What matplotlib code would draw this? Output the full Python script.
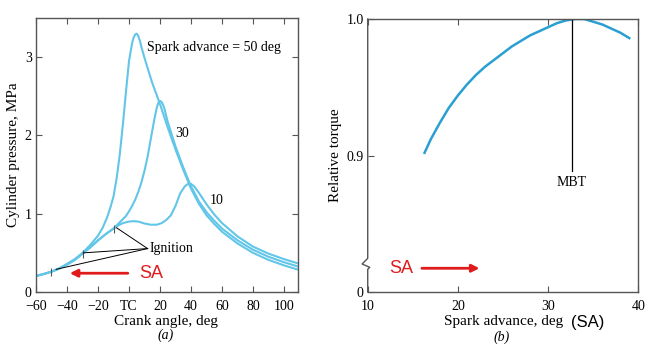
import matplotlib.pyplot as plt
import numpy as np

plt.rcParams['font.family'] = ['Liberation Serif', 'DejaVu Serif']
plt.rcParams['font.size'] = 10

# (a) cylinder pressure vs crank angle, three spark advances
ca_50 = [-60, -55, -50, -45, -40, -35, -30, -25, -20, -17, -14, -12, -10, -8, -6, -4, -2, 0, 2, 3, 4,
         5, 6, 7, 8, 10, 12, 15, 20, 25, 30, 35, 40, 45, 50, 55, 60, 70, 80, 90, 100, 110]
p_50 = [0.205, 0.23, 0.26, 0.30, 0.36, 0.42, 0.50, 0.60, 0.72, 0.82, 0.96, 1.08, 1.22, 1.45, 1.75,
        2.13, 2.55, 2.95, 3.18, 3.25, 3.29, 3.30, 3.27, 3.21, 3.13, 2.99, 2.86, 2.67, 2.40, 2.10,
        1.82, 1.56, 1.32, 1.13, 0.98, 0.87, 0.77, 0.62, 0.50, 0.41, 0.34, 0.28]

ca_30 = [-60, -55, -50, -45, -40, -35, -30, -25, -20, -15, -10, -5, -2, 0, 2, 4, 6, 8, 10, 12, 14, 16,
         17, 18, 19, 20, 21, 22, 23, 25, 30, 35, 40, 45, 50, 55, 60, 70, 80, 90, 100, 110]
p_30 = [0.205, 0.23, 0.26, 0.30, 0.35, 0.41, 0.49, 0.57, 0.66, 0.74, 0.81, 0.91, 0.97, 1.03, 1.10,
        1.18, 1.28, 1.40, 1.55, 1.73, 1.95, 2.17, 2.27, 2.36, 2.42, 2.44, 2.43, 2.39, 2.33, 2.17,
        1.86, 1.59, 1.35, 1.16, 1.02, 0.91, 0.81, 0.66, 0.54, 0.45, 0.38, 0.32]

ca_10 = [-60, -55, -50, -45, -40, -35, -30, -25, -20, -15, -10, -7, -4, 0, 3, 6, 10, 14, 18, 21, 24,
         27, 30, 33, 36, 38, 39, 40, 42, 45, 50, 55, 60, 70, 80, 90, 100, 110]
p_10 = [0.205, 0.23, 0.26, 0.30, 0.35, 0.41, 0.49, 0.57, 0.66, 0.74, 0.81, 0.85, 0.88, 0.90, 0.905,
        0.90, 0.875, 0.86, 0.86, 0.88, 0.92, 0.98, 1.10, 1.26, 1.35, 1.38, 1.385, 1.38, 1.35, 1.27,
        1.12, 0.99, 0.88, 0.71, 0.58, 0.49, 0.42, 0.36]

ign_angle = [-50, -30, -10]
ign_p = [0.26, 0.49, 0.81]

x_ticks_a = [-60, -40, -20, 0, 20, 40, 60, 80, 100]
x_labels_a = ['\u221260', '\u221240', '\u221220', 'TC', '20', '40', '60', '80', '100']

# (b) relative torque vs spark advance
sa = [16.3, 17, 18, 19, 20, 21, 22, 23, 24, 25, 26, 27, 28, 29, 30, 31, 32, 33, 34, 35, 36, 37, 38, 39]
torque = [0.902, 0.912, 0.924, 0.935, 0.944, 0.952, 0.959, 0.965, 0.970, 0.975, 0.980, 0.984, 0.988,
          0.991, 0.994, 0.997, 0.999, 1.0, 1.0, 0.998, 0.996, 0.993, 0.990, 0.986]
mbt = 32.6

blue_a = '#62c6e8'
blue_b = '#2a9fd2'
red = '#e01b1b'

fig = plt.figure(figsize=(6.64, 3.54), dpi=100)
ax1 = fig.add_axes([0.0542, 0.1751, 0.3946, 0.7740])
ax2 = fig.add_axes([0.5538, 0.1751, 0.4075, 0.7712])

for ax in (ax1, ax2):
    for s in ax.spines.values():
        s.set_color('#555555')
        s.set_linewidth(1.0)
    ax.tick_params(direction='in', length=4, color='#555555', labelsize=10)

# ---- panel (a)
ax1.plot(ca_10, p_10, color=blue_a, lw=1.5)
ax1.plot(ca_30, p_30, color=blue_a, lw=1.5)
ax1.plot(ca_50, p_50, color=blue_a, lw=1.5)
ax1.plot(ign_angle, ign_p, ls='none', marker='|', ms=6, mew=0.8, color='#555555')
ax1.set_xlim(-60, 109)
ax1.set_ylim(0, 3.5)
ax1.set_xticks(x_ticks_a)
ax1.set_xticklabels(x_labels_a)
ax1.set_yticks([0, 1, 2, 3])
ax1.tick_params(top=True, right=True)
ax1.tick_params(axis='x', pad=6)
ax1.tick_params(axis='y', pad=3)

ax1.text(11.5, 3.12, 'Spark advance = 50 deg', va='center', ha='left')
ax1.text(30, 2.03, '30', va='center', ha='left')
ax1.text(52, 1.17, '10', va='center', ha='left')
ax1.text(13, 0.555, 'Ignition', va='center', ha='left')
for a, p in [(-8, 0.82), (-29.5, 0.50), (-47, 0.29)]:
    ax1.plot([12, a], [0.555, p], color='black', lw=0.7)

ax1.annotate('', xy=(-40, 0.24), xytext=(1, 0.24),
             arrowprops=dict(arrowstyle='-|>', color=red, lw=2, mutation_scale=11))
ax1.text(14.3, 0.24, 'SA', color=red, fontsize=13, family=['Liberation Sans', 'DejaVu Sans'],
         ha='center', va='center')

# ---- panel (b)
ax2.plot(sa, torque, color=blue_b, lw=1.8)
ax2.plot([mbt, mbt], [1.0, 0.8885], color='black', lw=0.9)
ax2.text(mbt, 0.880, 'MBT', ha='center', va='center')
ax2.set_xlim(10, 40)
ax2.set_ylim(0.8, 1.0)
ax2.set_xticks([10, 20, 30, 40])
ax2.set_yticks([0.8, 0.9, 1.0])
ax2.set_yticklabels(['0', '0.9', '1.0'])
ax2.tick_params(top=True)
ax2.tick_params(axis='x', pad=6)
ax2.tick_params(axis='y', pad=3)

# broken left axis
ax2.spines['left'].set_visible(False)
ax2.plot([0, 0, -0.0207, 0.0074, 0, 0], [1, 0.1234, 0.1026, 0.0905, 0.0832, 0],
         transform=ax2.transAxes, color='#555555', lw=1.0, clip_on=False)

ax2.annotate('', xy=(22.7, 0.8174), xytext=(15.7, 0.8174),
             arrowprops=dict(arrowstyle='-|>', color=red, lw=2, mutation_scale=11))
ax2.text(13.7, 0.8174, 'SA', color=red, fontsize=13, family=['Liberation Sans', 'DejaVu Sans'],
         ha='center', va='center')

# axis labels
fig.text(14 / 664, 1 - 155 / 354, 'Cylinder pressure, MPa', rotation=90, ha='center', va='center',
         fontsize=11)
fig.text(166 / 664, 1 - 322 / 354, 'Crank angle, deg', ha='center', va='center', fontsize=11)
fig.text(166 / 664, 1 - 335 / 354, '(a)', ha='center', va='center', fontsize=10, style='italic')

fig.text(336 / 664, 1 - 155 / 354, 'Relative torque', rotation=90, ha='center', va='center',
         fontsize=11)
fig.text(563 / 664, 1 - 322 / 354, 'Spark advance, deg', ha='right', va='center', fontsize=11)
fig.text(571 / 664, 1 - 322 / 354, '(SA)', ha='left', va='center', fontsize=12,
         family=['Liberation Sans', 'DejaVu Sans'])
fig.text(502 / 664, 1 - 337 / 354, '(b)', ha='center', va='center', fontsize=10, style='italic')

fig.savefig('out.png', dpi=100)
